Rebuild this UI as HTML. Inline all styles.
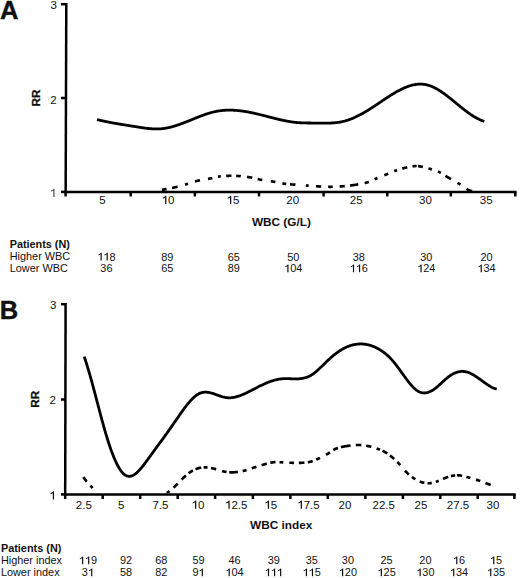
<!DOCTYPE html>
<html><head><meta charset="utf-8"><title>RR vs WBC</title>
<style>
html,body{margin:0;padding:0;background:#fff;}
body{width:520px;height:578px;overflow:hidden;}
svg{display:block;}
text{font-family:"Liberation Sans",sans-serif;}
</style></head><body>
<svg width="520" height="578" viewBox="0 0 520 578">
<g stroke="#000" stroke-width="2.50" fill="none" stroke-linecap="butt">
<line x1="66.30" y1="3.10" x2="65.65" y2="193.15"/>
<line x1="64.40" y1="191.90" x2="516.55" y2="191.90"/>
<line x1="61" y1="4.20" x2="65.65" y2="4.20"/>
<line x1="61" y1="98.00" x2="65.65" y2="98.00"/>
<line x1="61" y1="191.90" x2="65.65" y2="191.90"/>
<line x1="65.60" y1="191.90" x2="65.60" y2="196.50"/>
<line x1="130.70" y1="191.90" x2="130.70" y2="196.50"/>
<line x1="194.90" y1="191.90" x2="194.90" y2="196.50"/>
<line x1="259.00" y1="191.90" x2="259.00" y2="196.50"/>
<line x1="323.60" y1="191.90" x2="323.60" y2="196.50"/>
<line x1="387.30" y1="191.90" x2="387.30" y2="196.50"/>
<line x1="450.80" y1="191.90" x2="450.80" y2="196.50"/>
<line x1="515.30" y1="191.90" x2="515.30" y2="196.50"/>
<line x1="65.60" y1="303.00" x2="65.20" y2="495.65"/>
<line x1="63.95" y1="494.40" x2="515.75" y2="494.40"/>
<line x1="61" y1="304.20" x2="65.20" y2="304.20"/>
<line x1="61" y1="399.50" x2="65.20" y2="399.50"/>
<line x1="61" y1="494.40" x2="65.20" y2="494.40"/>
<line x1="65.20" y1="494.40" x2="65.20" y2="499.00"/>
<line x1="102.70" y1="494.40" x2="102.70" y2="499.00"/>
<line x1="140.20" y1="494.40" x2="140.20" y2="499.00"/>
<line x1="177.70" y1="494.40" x2="177.70" y2="499.00"/>
<line x1="215.10" y1="494.40" x2="215.10" y2="499.00"/>
<line x1="252.90" y1="494.40" x2="252.90" y2="499.00"/>
<line x1="290.40" y1="494.40" x2="290.40" y2="499.00"/>
<line x1="327.80" y1="494.40" x2="327.80" y2="499.00"/>
<line x1="365.40" y1="494.40" x2="365.40" y2="499.00"/>
<line x1="402.90" y1="494.40" x2="402.90" y2="499.00"/>
<line x1="440.30" y1="494.40" x2="440.30" y2="499.00"/>
<line x1="477.70" y1="494.40" x2="477.70" y2="499.00"/>
<line x1="514.40" y1="494.40" x2="514.40" y2="499.00"/>
</g>
<defs><clipPath id="ca"><rect x="67" y="0" width="460" height="190.9"/></clipPath><clipPath id="cb"><rect x="67" y="300" width="460" height="193.2"/></clipPath></defs>
<g fill="none" stroke="#000" stroke-linejoin="round">
<path stroke-width="2.80" stroke-linecap="butt" d="M97.00 119.56 L97.50 119.68 L98.00 119.80 L98.50 119.92 L99.00 120.04 L99.50 120.16 L100.00 120.28 L100.50 120.39 L101.00 120.51 L101.50 120.62 L102.00 120.73 L102.50 120.84 L103.00 120.95 L103.50 121.06 L104.00 121.17 L104.50 121.27 L105.00 121.38 L105.50 121.48 L106.00 121.59 L106.50 121.69 L107.00 121.79 L107.50 121.89 L108.00 121.99 L108.50 122.09 L109.00 122.19 L109.50 122.29 L110.00 122.38 L110.50 122.48 L111.00 122.57 L111.50 122.67 L112.00 122.76 L112.50 122.85 L113.00 122.95 L113.50 123.04 L114.00 123.13 L114.50 123.22 L115.00 123.31 L115.50 123.40 L116.00 123.48 L116.50 123.57 L117.00 123.66 L117.50 123.74 L118.00 123.83 L118.50 123.92 L119.00 124.00 L119.50 124.08 L120.00 124.17 L120.50 124.25 L121.00 124.33 L121.50 124.42 L122.00 124.50 L122.50 124.58 L123.00 124.66 L123.50 124.74 L124.00 124.83 L124.50 124.91 L125.00 124.99 L125.50 125.07 L126.00 125.15 L126.50 125.23 L127.00 125.31 L127.50 125.39 L128.00 125.47 L128.50 125.54 L129.00 125.62 L129.50 125.70 L130.00 125.78 L130.50 125.86 L131.00 125.94 L131.50 126.02 L132.00 126.10 L132.50 126.18 L133.00 126.25 L133.50 126.33 L134.00 126.41 L134.50 126.49 L135.00 126.57 L135.50 126.65 L136.00 126.73 L136.50 126.81 L137.00 126.89 L137.50 126.97 L138.00 127.05 L138.50 127.13 L139.00 127.21 L139.50 127.28 L140.00 127.36 L140.50 127.44 L141.00 127.52 L141.50 127.59 L142.00 127.67 L142.50 127.74 L143.00 127.81 L143.50 127.88 L144.00 127.95 L144.50 128.02 L145.00 128.09 L145.50 128.15 L146.00 128.22 L146.50 128.28 L147.00 128.34 L147.50 128.39 L148.00 128.45 L148.50 128.50 L149.00 128.55 L149.50 128.60 L150.00 128.65 L150.50 128.69 L151.00 128.73 L151.50 128.77 L152.00 128.80 L152.50 128.83 L153.00 128.86 L153.50 128.88 L154.00 128.90 L154.50 128.92 L155.00 128.94 L155.50 128.95 L156.00 128.95 L156.50 128.96 L157.00 128.95 L157.50 128.95 L158.00 128.94 L158.50 128.92 L159.00 128.90 L159.50 128.88 L160.00 128.85 L160.50 128.82 L161.00 128.78 L161.50 128.74 L162.00 128.69 L162.50 128.64 L163.00 128.58 L163.50 128.52 L164.00 128.45 L164.50 128.38 L165.00 128.30 L165.50 128.22 L166.00 128.14 L166.50 128.04 L167.00 127.95 L167.50 127.85 L168.00 127.75 L168.50 127.64 L169.00 127.53 L169.50 127.41 L170.00 127.29 L170.50 127.17 L171.00 127.04 L171.50 126.91 L172.00 126.78 L172.50 126.64 L173.00 126.50 L173.50 126.36 L174.00 126.21 L174.50 126.06 L175.00 125.91 L175.50 125.75 L176.00 125.59 L176.50 125.43 L177.00 125.26 L177.50 125.10 L178.00 124.93 L178.50 124.76 L179.00 124.58 L179.50 124.41 L180.00 124.23 L180.50 124.05 L181.00 123.87 L181.50 123.68 L182.00 123.50 L182.50 123.31 L183.00 123.12 L183.50 122.93 L184.00 122.74 L184.50 122.54 L185.00 122.35 L185.50 122.15 L186.00 121.95 L186.50 121.76 L187.00 121.56 L187.50 121.36 L188.00 121.16 L188.50 120.96 L189.00 120.76 L189.50 120.55 L190.00 120.35 L190.50 120.15 L191.00 119.95 L191.50 119.74 L192.00 119.54 L192.50 119.34 L193.00 119.13 L193.50 118.93 L194.00 118.73 L194.50 118.53 L195.00 118.32 L195.50 118.12 L196.00 117.92 L196.50 117.72 L197.00 117.52 L197.50 117.33 L198.00 117.13 L198.50 116.93 L199.00 116.74 L199.50 116.55 L200.00 116.35 L200.50 116.16 L201.00 115.97 L201.50 115.79 L202.00 115.60 L202.50 115.42 L203.00 115.24 L203.50 115.06 L204.00 114.88 L204.50 114.70 L205.00 114.53 L205.50 114.36 L206.00 114.19 L206.50 114.02 L207.00 113.86 L207.50 113.70 L208.00 113.54 L208.50 113.38 L209.00 113.23 L209.50 113.08 L210.00 112.93 L210.50 112.79 L211.00 112.65 L211.50 112.51 L212.00 112.38 L212.50 112.25 L213.00 112.12 L213.50 112.00 L214.00 111.88 L214.50 111.76 L215.00 111.65 L215.50 111.54 L216.00 111.44 L216.50 111.34 L217.00 111.25 L217.50 111.16 L218.00 111.07 L218.50 110.99 L219.00 110.91 L219.50 110.84 L220.00 110.77 L220.50 110.70 L221.00 110.64 L221.50 110.58 L222.00 110.52 L222.50 110.47 L223.00 110.43 L223.50 110.38 L224.00 110.34 L224.50 110.31 L225.00 110.27 L225.50 110.24 L226.00 110.22 L226.50 110.20 L227.00 110.18 L227.50 110.16 L228.00 110.15 L228.50 110.14 L229.00 110.14 L229.50 110.14 L230.00 110.14 L230.50 110.14 L231.00 110.15 L231.50 110.16 L232.00 110.17 L232.50 110.19 L233.00 110.21 L233.50 110.23 L234.00 110.26 L234.50 110.29 L235.00 110.32 L235.50 110.35 L236.00 110.39 L236.50 110.43 L237.00 110.47 L237.50 110.52 L238.00 110.56 L238.50 110.61 L239.00 110.67 L239.50 110.72 L240.00 110.78 L240.50 110.84 L241.00 110.90 L241.50 110.96 L242.00 111.03 L242.50 111.10 L243.00 111.17 L243.50 111.24 L244.00 111.32 L244.50 111.40 L245.00 111.48 L245.50 111.56 L246.00 111.64 L246.50 111.73 L247.00 111.81 L247.50 111.90 L248.00 111.99 L248.50 112.09 L249.00 112.18 L249.50 112.28 L250.00 112.38 L250.50 112.47 L251.00 112.58 L251.50 112.68 L252.00 112.78 L252.50 112.89 L253.00 112.99 L253.50 113.10 L254.00 113.21 L254.50 113.32 L255.00 113.44 L255.50 113.55 L256.00 113.66 L256.50 113.78 L257.00 113.90 L257.50 114.01 L258.00 114.13 L258.50 114.25 L259.00 114.37 L259.50 114.50 L260.00 114.62 L260.50 114.74 L261.00 114.87 L261.50 114.99 L262.00 115.12 L262.50 115.24 L263.00 115.37 L263.50 115.50 L264.00 115.63 L264.50 115.75 L265.00 115.88 L265.50 116.01 L266.00 116.14 L266.50 116.27 L267.00 116.40 L267.50 116.53 L268.00 116.66 L268.50 116.79 L269.00 116.92 L269.50 117.05 L270.00 117.18 L270.50 117.31 L271.00 117.44 L271.50 117.57 L272.00 117.70 L272.50 117.82 L273.00 117.95 L273.50 118.08 L274.00 118.21 L274.50 118.33 L275.00 118.46 L275.50 118.58 L276.00 118.71 L276.50 118.83 L277.00 118.95 L277.50 119.07 L278.00 119.19 L278.50 119.31 L279.00 119.43 L279.50 119.55 L280.00 119.66 L280.50 119.78 L281.00 119.89 L281.50 120.00 L282.00 120.11 L282.50 120.22 L283.00 120.33 L283.50 120.44 L284.00 120.54 L284.50 120.64 L285.00 120.74 L285.50 120.84 L286.00 120.94 L286.50 121.04 L287.00 121.13 L287.50 121.22 L288.00 121.31 L288.50 121.40 L289.00 121.49 L289.50 121.57 L290.00 121.65 L290.50 121.73 L291.00 121.81 L291.50 121.88 L292.00 121.95 L292.50 122.02 L293.00 122.09 L293.50 122.15 L294.00 122.22 L294.50 122.27 L295.00 122.33 L295.50 122.38 L296.00 122.44 L296.50 122.48 L297.00 122.53 L297.50 122.57 L298.00 122.61 L298.50 122.65 L299.00 122.68 L299.50 122.71 L300.00 122.74 L300.50 122.77 L301.00 122.80 L301.50 122.82 L302.00 122.84 L302.50 122.86 L303.00 122.88 L303.50 122.90 L304.00 122.91 L304.50 122.93 L305.00 122.94 L305.50 122.95 L306.00 122.96 L306.50 122.97 L307.00 122.98 L307.50 122.98 L308.00 122.99 L308.50 123.00 L309.00 123.00 L309.50 123.01 L310.00 123.01 L310.50 123.02 L311.00 123.02 L311.50 123.03 L312.00 123.03 L312.50 123.04 L313.00 123.04 L313.50 123.05 L314.00 123.05 L314.50 123.06 L315.00 123.06 L315.50 123.07 L316.00 123.08 L316.50 123.09 L317.00 123.10 L317.50 123.10 L318.00 123.11 L318.50 123.12 L319.00 123.13 L319.50 123.14 L320.00 123.15 L320.50 123.15 L321.00 123.16 L321.50 123.17 L322.00 123.17 L322.50 123.18 L323.00 123.18 L323.50 123.19 L324.00 123.19 L324.50 123.19 L325.00 123.19 L325.50 123.19 L326.00 123.18 L326.50 123.18 L327.00 123.17 L327.50 123.16 L328.00 123.15 L328.50 123.14 L329.00 123.13 L329.50 123.11 L330.00 123.09 L330.50 123.07 L331.00 123.05 L331.50 123.02 L332.00 122.99 L332.50 122.96 L333.00 122.93 L333.50 122.89 L334.00 122.85 L334.50 122.81 L335.00 122.76 L335.50 122.71 L336.00 122.66 L336.50 122.60 L337.00 122.54 L337.50 122.48 L338.00 122.41 L338.50 122.34 L339.00 122.26 L339.50 122.18 L340.00 122.09 L340.50 122.01 L341.00 121.91 L341.50 121.81 L342.00 121.71 L342.50 121.60 L343.00 121.49 L343.50 121.38 L344.00 121.25 L344.50 121.13 L345.00 120.99 L345.50 120.86 L346.00 120.71 L346.50 120.57 L347.00 120.41 L347.50 120.25 L348.00 120.09 L348.50 119.92 L349.00 119.75 L349.50 119.57 L350.00 119.39 L350.50 119.20 L351.00 119.01 L351.50 118.81 L352.00 118.61 L352.50 118.40 L353.00 118.19 L353.50 117.98 L354.00 117.76 L354.50 117.53 L355.00 117.31 L355.50 117.08 L356.00 116.84 L356.50 116.60 L357.00 116.36 L357.50 116.11 L358.00 115.86 L358.50 115.61 L359.00 115.35 L359.50 115.09 L360.00 114.83 L360.50 114.56 L361.00 114.29 L361.50 114.02 L362.00 113.74 L362.50 113.46 L363.00 113.18 L363.50 112.90 L364.00 112.61 L364.50 112.32 L365.00 112.02 L365.50 111.73 L366.00 111.43 L366.50 111.13 L367.00 110.83 L367.50 110.52 L368.00 110.21 L368.50 109.90 L369.00 109.59 L369.50 109.28 L370.00 108.96 L370.50 108.65 L371.00 108.33 L371.50 108.01 L372.00 107.69 L372.50 107.36 L373.00 107.04 L373.50 106.71 L374.00 106.38 L374.50 106.05 L375.00 105.72 L375.50 105.39 L376.00 105.06 L376.50 104.73 L377.00 104.39 L377.50 104.06 L378.00 103.72 L378.50 103.39 L379.00 103.05 L379.50 102.71 L380.00 102.38 L380.50 102.04 L381.00 101.70 L381.50 101.37 L382.00 101.03 L382.50 100.69 L383.00 100.36 L383.50 100.02 L384.00 99.69 L384.50 99.35 L385.00 99.02 L385.50 98.69 L386.00 98.35 L386.50 98.02 L387.00 97.70 L387.50 97.37 L388.00 97.04 L388.50 96.72 L389.00 96.40 L389.50 96.07 L390.00 95.76 L390.50 95.44 L391.00 95.12 L391.50 94.81 L392.00 94.50 L392.50 94.19 L393.00 93.89 L393.50 93.58 L394.00 93.28 L394.50 92.99 L395.00 92.69 L395.50 92.40 L396.00 92.11 L396.50 91.83 L397.00 91.55 L397.50 91.27 L398.00 91.00 L398.50 90.73 L399.00 90.46 L399.50 90.20 L400.00 89.94 L400.50 89.68 L401.00 89.43 L401.50 89.19 L402.00 88.95 L402.50 88.71 L403.00 88.48 L403.50 88.25 L404.00 88.03 L404.50 87.81 L405.00 87.60 L405.50 87.39 L406.00 87.19 L406.50 86.99 L407.00 86.80 L407.50 86.62 L408.00 86.44 L408.50 86.26 L409.00 86.09 L409.50 85.93 L410.00 85.78 L410.50 85.63 L411.00 85.48 L411.50 85.35 L412.00 85.22 L412.50 85.09 L413.00 84.98 L413.50 84.87 L414.00 84.76 L414.50 84.67 L415.00 84.58 L415.50 84.50 L416.00 84.42 L416.50 84.36 L417.00 84.30 L417.50 84.25 L418.00 84.21 L418.50 84.17 L419.00 84.14 L419.50 84.13 L420.00 84.12 L420.50 84.11 L421.00 84.12 L421.50 84.13 L422.00 84.16 L422.50 84.19 L423.00 84.23 L423.50 84.28 L424.00 84.34 L424.50 84.41 L425.00 84.49 L425.50 84.58 L426.00 84.67 L426.50 84.78 L427.00 84.90 L427.50 85.02 L428.00 85.16 L428.50 85.30 L429.00 85.46 L429.50 85.62 L430.00 85.79 L430.50 85.98 L431.00 86.17 L431.50 86.37 L432.00 86.57 L432.50 86.79 L433.00 87.01 L433.50 87.24 L434.00 87.48 L434.50 87.73 L435.00 87.98 L435.50 88.25 L436.00 88.51 L436.50 88.79 L437.00 89.07 L437.50 89.36 L438.00 89.65 L438.50 89.95 L439.00 90.26 L439.50 90.57 L440.00 90.89 L440.50 91.21 L441.00 91.54 L441.50 91.88 L442.00 92.22 L442.50 92.56 L443.00 92.91 L443.50 93.26 L444.00 93.62 L444.50 93.98 L445.00 94.35 L445.50 94.71 L446.00 95.09 L446.50 95.46 L447.00 95.84 L447.50 96.23 L448.00 96.61 L448.50 97.00 L449.00 97.39 L449.50 97.79 L450.00 98.18 L450.50 98.58 L451.00 98.98 L451.50 99.38 L452.00 99.78 L452.50 100.19 L453.00 100.60 L453.50 101.00 L454.00 101.41 L454.50 101.82 L455.00 102.23 L455.50 102.64 L456.00 103.05 L456.50 103.46 L457.00 103.87 L457.50 104.28 L458.00 104.69 L458.50 105.10 L459.00 105.51 L459.50 105.92 L460.00 106.32 L460.50 106.73 L461.00 107.13 L461.50 107.53 L462.00 107.94 L462.50 108.33 L463.00 108.73 L463.50 109.12 L464.00 109.52 L464.50 109.91 L465.00 110.29 L465.50 110.68 L466.00 111.06 L466.50 111.43 L467.00 111.81 L467.50 112.18 L468.00 112.54 L468.50 112.91 L469.00 113.27 L469.50 113.62 L470.00 113.97 L470.50 114.31 L471.00 114.66 L471.50 114.99 L472.00 115.32 L472.50 115.65 L473.00 115.97 L473.50 116.28 L474.00 116.59 L474.50 116.89 L475.00 117.19 L475.50 117.48 L476.00 117.76 L476.50 118.04 L477.00 118.31 L477.50 118.57 L478.00 118.83 L478.50 119.08 L479.00 119.32 L479.50 119.55 L480.00 119.78 L480.50 119.99 L481.00 120.20 L481.50 120.41 L482.00 120.60 L482.50 120.78 L483.00 120.96 L483.50 121.12 L484.00 121.28 L484.30 121.37"/>
<path clip-path="url(#ca)" stroke-width="2.65" d="M161.82 189.91 L162.22 189.83 L162.62 189.74 L163.02 189.66 L163.42 189.58 L163.81 189.50 L164.22 189.42 L164.63 189.33 L165.05 189.25 L165.46 189.17 L165.88 189.10 L166.29 189.02 L166.58 188.96 M172.12 187.93 L172.53 187.84 L172.94 187.76 L173.35 187.67 L173.76 187.58 L174.17 187.49 L174.59 187.40 L175.00 187.30 L175.42 187.20 L175.81 187.11 L176.20 187.01 L176.59 186.91 L176.99 186.81 L177.38 186.71 L177.58 186.66 M185.01 184.60 L185.41 184.49 L185.81 184.37 L186.20 184.26 L186.60 184.14 L186.99 184.03 L187.38 183.91 L187.76 183.79 L187.98 183.72 M195.01 181.46 L195.41 181.35 L195.81 181.24 L196.21 181.13 L196.62 181.02 L197.03 180.92 L197.44 180.81 L197.86 180.72 L198.26 180.63 L198.66 180.54 L199.07 180.45 L199.48 180.37 L199.90 180.28 L199.99 180.26 M208.01 178.90 L208.41 178.83 L208.83 178.76 L209.24 178.68 L209.64 178.61 L210.06 178.53 L210.47 178.45 L210.87 178.36 L211.29 178.28 L211.69 178.19 L212.09 178.10 L212.28 178.05 M218.02 176.73 L218.42 176.66 L218.82 176.59 L219.24 176.52 L219.63 176.47 L220.03 176.41 L220.43 176.36 L220.78 176.32 M226.20 175.90 L226.61 175.88 L227.01 175.86 L227.42 175.85 L227.83 175.83 L228.23 175.82 L228.64 175.81 L229.04 175.80 L229.45 175.79 L229.85 175.78 L230.25 175.77 L230.67 175.77 L231.09 175.76 L231.49 175.76 M236.21 175.86 L236.62 175.88 L237.05 175.91 L237.45 175.93 L237.86 175.96 L238.27 175.98 L238.68 176.01 L239.10 176.05 L239.51 176.08 L239.91 176.11 L240.32 176.14 L240.74 176.18 L240.79 176.19 M247.01 176.89 L247.41 176.95 L247.83 177.01 L248.25 177.07 L248.66 177.13 L249.08 177.20 L249.48 177.26 L249.89 177.33 L250.28 177.40 L250.70 177.48 L251.11 177.56 L251.52 177.65 L251.92 177.73 L252.30 177.82 M257.72 179.13 L258.12 179.22 L258.53 179.31 L258.94 179.39 L259.34 179.47 L259.74 179.55 L260.15 179.63 L260.56 179.70 L260.96 179.77 L261.36 179.84 L261.77 179.91 L262.18 179.97 L262.28 179.99 M270.82 181.24 L271.24 181.30 L271.66 181.37 L272.08 181.43 L272.48 181.50 L272.89 181.56 L273.28 181.63 L273.71 181.70 L274.13 181.78 L274.55 181.86 L274.97 181.93 L275.39 182.01 M282.32 183.37 L282.74 183.45 L283.15 183.52 L283.55 183.58 L283.95 183.65 L284.37 183.71 L284.78 183.77 L285.18 183.83 L285.59 183.88 L286.00 183.93 L286.18 183.95 M290.01 184.29 L290.41 184.32 L290.81 184.35 L291.23 184.38 L291.65 184.42 L292.07 184.45 L292.47 184.48 L292.87 184.51 L293.29 184.55 L293.69 184.58 L294.11 184.61 L294.54 184.65 L294.95 184.68 L295.36 184.71 L295.40 184.72 M305.81 185.50 L306.23 185.53 L306.64 185.56 L307.07 185.59 L307.49 185.62 L307.90 185.65 L308.31 185.68 L308.68 185.71 M316.01 186.25 L316.43 186.28 L316.84 186.30 L317.26 186.33 L317.68 186.35 L318.11 186.37 L318.51 186.40 L318.92 186.42 L319.33 186.44 L319.73 186.46 L320.14 186.48 L320.55 186.50 L320.96 186.52 L321.20 186.53 M328.12 186.79 L328.54 186.79 L328.95 186.80 L329.37 186.80 L329.78 186.80 L330.19 186.80 L330.61 186.80 L331.02 186.80 L331.43 186.79 L331.84 186.79 L332.26 186.78 L332.67 186.77 L332.70 186.77 M339.62 186.48 L340.03 186.45 L340.45 186.42 L340.86 186.40 L341.28 186.37 L341.69 186.34 L342.11 186.31 L342.53 186.28 L342.94 186.24 L343.36 186.21 L343.78 186.18 L344.19 186.14 L344.61 186.11 L344.79 186.09 M350.02 185.57 L350.44 185.52 L350.86 185.47 L351.28 185.41 L351.70 185.36 L352.13 185.30 L352.55 185.24 L352.98 185.18 L353.37 185.12 L353.77 185.07 L354.17 185.00 L354.57 184.94 L354.97 184.88 L355.38 184.81 L355.79 184.75 L356.21 184.68 L356.62 184.62 L357.04 184.55 L357.46 184.48 L357.88 184.40 L358.27 184.34 M364.61 183.06 L365.02 182.95 L365.43 182.85 L365.84 182.74 L366.23 182.63 L366.62 182.52 L367.02 182.40 L367.42 182.28 L367.81 182.15 L368.18 182.02 L368.58 181.88 L368.80 181.79 M374.60 179.20 L374.97 179.04 L375.35 178.87 L375.73 178.71 L376.12 178.55 L376.49 178.40 L376.87 178.25 L377.25 178.10 L377.47 178.00 M384.31 175.30 L384.70 175.15 L385.08 174.99 L385.46 174.84 L385.83 174.69 L386.20 174.54 L386.59 174.38 L386.98 174.22 L387.37 174.06 L387.75 173.89 L388.13 173.73 L388.30 173.66 M394.22 171.12 L394.61 170.97 L395.00 170.82 L395.39 170.67 L395.78 170.53 L396.18 170.40 L396.57 170.26 L396.96 170.13 L396.98 170.12 M402.21 168.55 L402.60 168.45 L402.99 168.35 L403.39 168.24 L403.79 168.15 L404.19 168.05 L404.59 167.95 L404.99 167.85 L405.40 167.76 L405.80 167.67 L406.20 167.58 L406.61 167.49 L407.02 167.40 L407.30 167.34 M412.51 166.36 L412.90 166.30 L413.31 166.25 L413.71 166.19 L414.11 166.15 L414.52 166.11 L414.92 166.07 L415.33 166.04 L415.74 166.02 L416.15 166.00 L416.55 166.00 L416.70 166.00 M418.10 166.10 L418.51 166.15 L418.91 166.22 L419.31 166.29 L419.71 166.36 L420.11 166.43 L420.50 166.50 L420.90 166.57 L421.30 166.65 L421.71 166.73 L422.11 166.82 L422.50 166.90 L422.88 166.99 M428.50 168.41 L428.91 168.52 L429.30 168.64 L429.70 168.75 L430.08 168.86 L430.48 168.99 L430.89 169.11 L431.29 169.23 L431.69 169.35 L431.88 169.41 M438.00 171.53 L438.39 171.70 L438.78 171.87 L439.16 172.04 L439.54 172.22 L439.92 172.41 L440.30 172.60 L440.67 172.80 L440.88 172.91 M445.41 175.75 L445.76 175.98 L446.11 176.21 L446.47 176.44 L446.81 176.65 L447.15 176.87 L447.51 177.08 L447.86 177.30 L448.22 177.51 L448.57 177.72 L448.92 177.92 L449.28 178.13 L449.65 178.34 L450.02 178.55 L450.37 178.75 L450.72 178.95 L451.00 179.11 M457.51 182.80 L457.88 183.02 L458.23 183.23 L458.58 183.45 L458.93 183.66 L459.29 183.88 L459.65 184.11 L460.01 184.34 L460.37 184.57 L460.49 184.65 M466.50 188.78 L466.84 189.00 L467.18 189.21 L467.53 189.42 L467.89 189.62 L468.26 189.82 L468.62 190.01 L468.99 190.18 L469.37 190.35 L469.74 190.50 L470.12 190.64 L470.51 190.76 L470.89 190.88 L471.28 190.99 L471.67 191.10 L472.00 191.20"/>
<path stroke-width="2.80" stroke-linecap="butt" d="M84.20 356.63 L84.70 358.08 L85.20 359.57 L85.70 361.09 L86.20 362.64 L86.70 364.22 L87.20 365.83 L87.70 367.47 L88.20 369.13 L88.70 370.82 L89.20 372.54 L89.70 374.27 L90.20 376.03 L90.70 377.81 L91.20 379.60 L91.70 381.41 L92.20 383.24 L92.70 385.08 L93.20 386.93 L93.70 388.80 L94.20 390.67 L94.70 392.56 L95.20 394.45 L95.70 396.34 L96.20 398.24 L96.70 400.14 L97.20 402.05 L97.70 403.95 L98.20 405.85 L98.70 407.75 L99.20 409.65 L99.70 411.54 L100.20 413.42 L100.70 415.29 L101.20 417.16 L101.70 419.01 L102.20 420.85 L102.70 422.68 L103.20 424.49 L103.70 426.29 L104.20 428.07 L104.70 429.82 L105.20 431.56 L105.70 433.28 L106.20 434.97 L106.70 436.64 L107.20 438.28 L107.70 439.89 L108.20 441.47 L108.70 443.03 L109.20 444.55 L109.70 446.05 L110.20 447.51 L110.70 448.94 L111.20 450.35 L111.70 451.72 L112.20 453.05 L112.70 454.36 L113.20 455.63 L113.70 456.87 L114.20 458.07 L114.70 459.24 L115.20 460.38 L115.70 461.48 L116.20 462.54 L116.70 463.57 L117.20 464.56 L117.70 465.51 L118.20 466.43 L118.70 467.31 L119.20 468.15 L119.70 468.95 L120.20 469.71 L120.70 470.43 L121.20 471.11 L121.70 471.75 L122.20 472.35 L122.70 472.91 L123.20 473.43 L123.70 473.90 L124.20 474.34 L124.70 474.72 L125.20 475.07 L125.70 475.37 L126.20 475.63 L126.70 475.84 L127.20 476.02 L127.70 476.15 L128.20 476.24 L128.70 476.30 L129.20 476.32 L129.70 476.30 L130.20 476.25 L130.70 476.16 L131.20 476.04 L131.70 475.89 L132.20 475.70 L132.70 475.49 L133.20 475.24 L133.70 474.97 L134.20 474.66 L134.70 474.34 L135.20 473.98 L135.70 473.60 L136.20 473.20 L136.70 472.77 L137.20 472.32 L137.70 471.86 L138.20 471.37 L138.70 470.86 L139.20 470.33 L139.70 469.79 L140.20 469.23 L140.70 468.65 L141.20 468.07 L141.70 467.46 L142.20 466.85 L142.70 466.22 L143.20 465.59 L143.70 464.94 L144.20 464.29 L144.70 463.62 L145.20 462.96 L145.70 462.28 L146.20 461.60 L146.70 460.92 L147.20 460.24 L147.70 459.55 L148.20 458.86 L148.70 458.17 L149.20 457.48 L149.70 456.79 L150.20 456.10 L150.70 455.41 L151.20 454.72 L151.70 454.03 L152.20 453.34 L152.70 452.65 L153.20 451.96 L153.70 451.27 L154.20 450.59 L154.70 449.90 L155.20 449.22 L155.70 448.53 L156.20 447.85 L156.70 447.17 L157.20 446.49 L157.70 445.82 L158.20 445.14 L158.70 444.47 L159.20 443.79 L159.70 443.12 L160.20 442.44 L160.70 441.77 L161.20 441.09 L161.70 440.41 L162.20 439.73 L162.70 439.05 L163.20 438.37 L163.70 437.68 L164.20 436.99 L164.70 436.30 L165.20 435.61 L165.70 434.91 L166.20 434.21 L166.70 433.51 L167.20 432.81 L167.70 432.10 L168.20 431.39 L168.70 430.68 L169.20 429.97 L169.70 429.26 L170.20 428.54 L170.70 427.82 L171.20 427.11 L171.70 426.39 L172.20 425.67 L172.70 424.94 L173.20 424.22 L173.70 423.50 L174.20 422.78 L174.70 422.05 L175.20 421.33 L175.70 420.60 L176.20 419.88 L176.70 419.15 L177.20 418.43 L177.70 417.71 L178.20 416.98 L178.70 416.26 L179.20 415.54 L179.70 414.82 L180.20 414.10 L180.70 413.39 L181.20 412.68 L181.70 411.98 L182.20 411.28 L182.70 410.58 L183.20 409.89 L183.70 409.21 L184.20 408.53 L184.70 407.86 L185.20 407.19 L185.70 406.54 L186.20 405.89 L186.70 405.25 L187.20 404.62 L187.70 404.00 L188.20 403.39 L188.70 402.80 L189.20 402.21 L189.70 401.63 L190.20 401.07 L190.70 400.52 L191.20 399.99 L191.70 399.46 L192.20 398.95 L192.70 398.46 L193.20 397.98 L193.70 397.52 L194.20 397.07 L194.70 396.64 L195.20 396.23 L195.70 395.83 L196.20 395.46 L196.70 395.10 L197.20 394.76 L197.70 394.44 L198.20 394.14 L198.70 393.86 L199.20 393.60 L199.70 393.36 L200.20 393.15 L200.70 392.95 L201.20 392.78 L201.70 392.64 L202.20 392.51 L202.70 392.40 L203.20 392.31 L203.70 392.24 L204.20 392.19 L204.70 392.16 L205.20 392.14 L205.70 392.14 L206.20 392.16 L206.70 392.19 L207.20 392.23 L207.70 392.29 L208.20 392.36 L208.70 392.44 L209.20 392.54 L209.70 392.64 L210.20 392.75 L210.70 392.88 L211.20 393.01 L211.70 393.15 L212.20 393.30 L212.70 393.45 L213.20 393.61 L213.70 393.78 L214.20 393.95 L214.70 394.12 L215.20 394.30 L215.70 394.48 L216.20 394.66 L216.70 394.84 L217.20 395.02 L217.70 395.20 L218.20 395.39 L218.70 395.57 L219.20 395.74 L219.70 395.92 L220.20 396.09 L220.70 396.26 L221.20 396.42 L221.70 396.57 L222.20 396.72 L222.70 396.87 L223.20 397.00 L223.70 397.13 L224.20 397.24 L224.70 397.35 L225.20 397.45 L225.70 397.53 L226.20 397.61 L226.70 397.67 L227.20 397.72 L227.70 397.76 L228.20 397.79 L228.70 397.80 L229.20 397.81 L229.70 397.80 L230.20 397.78 L230.70 397.76 L231.20 397.72 L231.70 397.67 L232.20 397.61 L232.70 397.55 L233.20 397.47 L233.70 397.39 L234.20 397.29 L234.70 397.19 L235.20 397.08 L235.70 396.96 L236.20 396.84 L236.70 396.70 L237.20 396.56 L237.70 396.41 L238.20 396.26 L238.70 396.10 L239.20 395.93 L239.70 395.75 L240.20 395.57 L240.70 395.38 L241.20 395.19 L241.70 394.99 L242.20 394.79 L242.70 394.58 L243.20 394.37 L243.70 394.15 L244.20 393.93 L244.70 393.70 L245.20 393.47 L245.70 393.24 L246.20 393.00 L246.70 392.76 L247.20 392.52 L247.70 392.27 L248.20 392.02 L248.70 391.77 L249.20 391.52 L249.70 391.26 L250.20 391.01 L250.70 390.75 L251.20 390.49 L251.70 390.23 L252.20 389.97 L252.70 389.71 L253.20 389.45 L253.70 389.19 L254.20 388.93 L254.70 388.67 L255.20 388.41 L255.70 388.15 L256.20 387.89 L256.70 387.63 L257.20 387.38 L257.70 387.12 L258.20 386.87 L258.70 386.62 L259.20 386.37 L259.70 386.12 L260.20 385.87 L260.70 385.63 L261.20 385.39 L261.70 385.15 L262.20 384.91 L262.70 384.68 L263.20 384.45 L263.70 384.22 L264.20 383.99 L264.70 383.77 L265.20 383.55 L265.70 383.33 L266.20 383.12 L266.70 382.91 L267.20 382.70 L267.70 382.50 L268.20 382.30 L268.70 382.11 L269.20 381.92 L269.70 381.73 L270.20 381.55 L270.70 381.37 L271.20 381.20 L271.70 381.03 L272.20 380.87 L272.70 380.71 L273.20 380.55 L273.70 380.40 L274.20 380.26 L274.70 380.12 L275.20 379.99 L275.70 379.86 L276.20 379.74 L276.70 379.63 L277.20 379.52 L277.70 379.42 L278.20 379.32 L278.70 379.23 L279.20 379.15 L279.70 379.07 L280.20 379.00 L280.70 378.93 L281.20 378.88 L281.70 378.83 L282.20 378.78 L282.70 378.75 L283.20 378.72 L283.70 378.69 L284.20 378.67 L284.70 378.66 L285.20 378.65 L285.70 378.64 L286.20 378.64 L286.70 378.65 L287.20 378.65 L287.70 378.66 L288.20 378.67 L288.70 378.68 L289.20 378.70 L289.70 378.71 L290.20 378.73 L290.70 378.75 L291.20 378.76 L291.70 378.78 L292.20 378.80 L292.70 378.81 L293.20 378.83 L293.70 378.84 L294.20 378.85 L294.70 378.86 L295.20 378.86 L295.70 378.86 L296.20 378.86 L296.70 378.85 L297.20 378.84 L297.70 378.82 L298.20 378.80 L298.70 378.78 L299.20 378.74 L299.70 378.71 L300.20 378.66 L300.70 378.61 L301.20 378.55 L301.70 378.48 L302.20 378.40 L302.70 378.32 L303.20 378.22 L303.70 378.12 L304.20 378.00 L304.70 377.88 L305.20 377.75 L305.70 377.60 L306.20 377.45 L306.70 377.28 L307.20 377.10 L307.70 376.91 L308.20 376.70 L308.70 376.48 L309.20 376.25 L309.70 376.00 L310.20 375.74 L310.70 375.47 L311.20 375.18 L311.70 374.87 L312.20 374.55 L312.70 374.22 L313.20 373.87 L313.70 373.50 L314.20 373.13 L314.70 372.74 L315.20 372.34 L315.70 371.93 L316.20 371.51 L316.70 371.08 L317.20 370.64 L317.70 370.19 L318.20 369.74 L318.70 369.28 L319.20 368.81 L319.70 368.33 L320.20 367.85 L320.70 367.37 L321.20 366.89 L321.70 366.40 L322.20 365.90 L322.70 365.41 L323.20 364.92 L323.70 364.42 L324.20 363.93 L324.70 363.43 L325.20 362.94 L325.70 362.45 L326.20 361.97 L326.70 361.48 L327.20 361.00 L327.70 360.53 L328.20 360.06 L328.70 359.60 L329.20 359.14 L329.70 358.68 L330.20 358.23 L330.70 357.79 L331.20 357.35 L331.70 356.92 L332.20 356.49 L332.70 356.07 L333.20 355.65 L333.70 355.24 L334.20 354.84 L334.70 354.44 L335.20 354.05 L335.70 353.67 L336.20 353.29 L336.70 352.92 L337.20 352.55 L337.70 352.19 L338.20 351.84 L338.70 351.50 L339.20 351.16 L339.70 350.84 L340.20 350.51 L340.70 350.20 L341.20 349.89 L341.70 349.60 L342.20 349.31 L342.70 349.02 L343.20 348.75 L343.70 348.48 L344.20 348.22 L344.70 347.97 L345.20 347.72 L345.70 347.48 L346.20 347.25 L346.70 347.03 L347.20 346.82 L347.70 346.61 L348.20 346.41 L348.70 346.22 L349.20 346.04 L349.70 345.86 L350.20 345.69 L350.70 345.53 L351.20 345.38 L351.70 345.24 L352.20 345.10 L352.70 344.97 L353.20 344.85 L353.70 344.73 L354.20 344.63 L354.70 344.53 L355.20 344.44 L355.70 344.35 L356.20 344.28 L356.70 344.21 L357.20 344.15 L357.70 344.10 L358.20 344.06 L358.70 344.02 L359.20 343.99 L359.70 343.97 L360.20 343.96 L360.70 343.95 L361.20 343.96 L361.70 343.97 L362.20 343.99 L362.70 344.01 L363.20 344.05 L363.70 344.09 L364.20 344.14 L364.70 344.20 L365.20 344.26 L365.70 344.34 L366.20 344.42 L366.70 344.51 L367.20 344.60 L367.70 344.71 L368.20 344.82 L368.70 344.94 L369.20 345.07 L369.70 345.21 L370.20 345.36 L370.70 345.51 L371.20 345.67 L371.70 345.84 L372.20 346.02 L372.70 346.20 L373.20 346.39 L373.70 346.59 L374.20 346.80 L374.70 347.02 L375.20 347.24 L375.70 347.48 L376.20 347.72 L376.70 347.97 L377.20 348.22 L377.70 348.49 L378.20 348.76 L378.70 349.04 L379.20 349.33 L379.70 349.63 L380.20 349.93 L380.70 350.25 L381.20 350.57 L381.70 350.90 L382.20 351.24 L382.70 351.59 L383.20 351.94 L383.70 352.31 L384.20 352.68 L384.70 353.07 L385.20 353.47 L385.70 353.87 L386.20 354.29 L386.70 354.72 L387.20 355.16 L387.70 355.61 L388.20 356.07 L388.70 356.54 L389.20 357.03 L389.70 357.53 L390.20 358.04 L390.70 358.56 L391.20 359.10 L391.70 359.65 L392.20 360.21 L392.70 360.79 L393.20 361.37 L393.70 361.97 L394.20 362.58 L394.70 363.20 L395.20 363.83 L395.70 364.46 L396.20 365.11 L396.70 365.76 L397.20 366.42 L397.70 367.08 L398.20 367.75 L398.70 368.43 L399.20 369.11 L399.70 369.79 L400.20 370.48 L400.70 371.17 L401.20 371.87 L401.70 372.56 L402.20 373.26 L402.70 373.95 L403.20 374.65 L403.70 375.34 L404.20 376.03 L404.70 376.72 L405.20 377.41 L405.70 378.09 L406.20 378.77 L406.70 379.44 L407.20 380.10 L407.70 380.76 L408.20 381.41 L408.70 382.04 L409.20 382.67 L409.70 383.29 L410.20 383.89 L410.70 384.48 L411.20 385.06 L411.70 385.63 L412.20 386.18 L412.70 386.71 L413.20 387.23 L413.70 387.72 L414.20 388.20 L414.70 388.66 L415.20 389.10 L415.70 389.52 L416.20 389.92 L416.70 390.30 L417.20 390.65 L417.70 390.97 L418.20 391.27 L418.70 391.55 L419.20 391.80 L419.70 392.03 L420.20 392.23 L420.70 392.40 L421.20 392.55 L421.70 392.68 L422.20 392.79 L422.70 392.87 L423.20 392.93 L423.70 392.97 L424.20 392.98 L424.70 392.97 L425.20 392.95 L425.70 392.90 L426.20 392.83 L426.70 392.74 L427.20 392.63 L427.70 392.50 L428.20 392.35 L428.70 392.18 L429.20 392.00 L429.70 391.79 L430.20 391.57 L430.70 391.33 L431.20 391.07 L431.70 390.80 L432.20 390.51 L432.70 390.21 L433.20 389.88 L433.70 389.55 L434.20 389.20 L434.70 388.83 L435.20 388.45 L435.70 388.06 L436.20 387.66 L436.70 387.25 L437.20 386.83 L437.70 386.40 L438.20 385.96 L438.70 385.52 L439.20 385.07 L439.70 384.61 L440.20 384.15 L440.70 383.69 L441.20 383.23 L441.70 382.77 L442.20 382.30 L442.70 381.84 L443.20 381.38 L443.70 380.92 L444.20 380.46 L444.70 380.01 L445.20 379.57 L445.70 379.13 L446.20 378.70 L446.70 378.27 L447.20 377.86 L447.70 377.45 L448.20 377.06 L448.70 376.68 L449.20 376.31 L449.70 375.95 L450.20 375.61 L450.70 375.28 L451.20 374.96 L451.70 374.66 L452.20 374.37 L452.70 374.09 L453.20 373.82 L453.70 373.57 L454.20 373.34 L454.70 373.11 L455.20 372.90 L455.70 372.71 L456.20 372.52 L456.70 372.35 L457.20 372.20 L457.70 372.06 L458.20 371.93 L458.70 371.82 L459.20 371.72 L459.70 371.64 L460.20 371.57 L460.70 371.51 L461.20 371.47 L461.70 371.44 L462.20 371.43 L462.70 371.43 L463.20 371.45 L463.70 371.48 L464.20 371.52 L464.70 371.58 L465.20 371.66 L465.70 371.75 L466.20 371.86 L466.70 371.98 L467.20 372.11 L467.70 372.26 L468.20 372.43 L468.70 372.61 L469.20 372.80 L469.70 373.01 L470.20 373.23 L470.70 373.46 L471.20 373.71 L471.70 373.96 L472.20 374.23 L472.70 374.50 L473.20 374.79 L473.70 375.08 L474.20 375.38 L474.70 375.69 L475.20 376.01 L475.70 376.33 L476.20 376.66 L476.70 377.00 L477.20 377.34 L477.70 377.69 L478.20 378.04 L478.70 378.39 L479.20 378.75 L479.70 379.11 L480.20 379.47 L480.70 379.83 L481.20 380.20 L481.70 380.56 L482.20 380.93 L482.70 381.29 L483.20 381.66 L483.70 382.02 L484.20 382.38 L484.70 382.74 L485.20 383.09 L485.70 383.44 L486.20 383.79 L486.70 384.13 L487.20 384.47 L487.70 384.80 L488.20 385.12 L488.70 385.44 L489.20 385.75 L489.70 386.05 L490.20 386.34 L490.70 386.63 L491.20 386.90 L491.70 387.17 L492.20 387.42 L492.70 387.67 L493.20 387.90 L493.70 388.12 L494.20 388.32 L494.70 388.52 L495.20 388.70 L495.70 388.86 L496.20 389.01 L496.70 389.15"/>
<path clip-path="url(#cb)" stroke-width="2.65" d="M83.30 477.10 L83.54 477.42 L83.78 477.75 L84.02 478.08 L84.26 478.40 L84.50 478.73 L84.74 479.06 L84.98 479.38 L85.23 479.71 L85.48 480.04 L85.73 480.36 L85.99 480.68 L86.25 481.01 L86.52 481.32 L86.79 481.64 L86.80 481.65 M90.40 485.58 L90.68 485.88 L90.96 486.19 L91.24 486.50 L91.51 486.81 L91.78 487.12 L92.04 487.43 L92.31 487.74 L92.57 488.05 L92.59 488.08"/>
<path clip-path="url(#cb)" stroke-width="2.65" d="M166.60 493.04 L166.97 492.86 L167.32 492.66 L167.66 492.44 L167.99 492.21 L168.32 491.96 L168.65 491.71 L168.97 491.46 L169.28 491.21 L169.49 491.04 M173.51 487.61 L173.82 487.33 L174.13 487.05 L174.45 486.77 L174.75 486.48 L175.06 486.20 L175.36 485.92 L175.66 485.64 L175.96 485.36 L176.26 485.07 L176.56 484.77 L176.85 484.49 L177.14 484.20 L177.43 483.90 L177.68 483.65 M181.60 479.56 L181.89 479.26 L182.17 478.98 L182.47 478.67 L182.77 478.38 L183.07 478.09 L183.36 477.81 L183.67 477.52 L183.97 477.24 L184.27 476.97 L184.58 476.69 L184.88 476.41 L185.18 476.14 L185.49 475.86 L185.80 475.58 L185.99 475.41 M188.61 473.25 L188.95 473.00 L189.29 472.75 L189.62 472.52 L189.95 472.29 L190.28 472.07 L190.63 471.85 L190.98 471.63 L191.33 471.41 L191.68 471.20 L192.04 470.99 L192.41 470.79 L192.77 470.59 L192.89 470.53 M195.51 469.26 L195.89 469.10 L196.26 468.95 L196.65 468.80 L197.03 468.65 L197.42 468.52 L197.80 468.39 L198.19 468.26 L198.59 468.15 L198.97 468.04 L199.37 467.94 L199.77 467.85 L200.16 467.77 L200.57 467.69 L200.98 467.63 L201.19 467.59 M203.61 467.40 L204.03 467.39 L204.43 467.38 L204.83 467.39 L205.24 467.39 L205.66 467.40 L206.07 467.42 L206.49 467.44 L206.90 467.47 L207.31 467.50 L207.59 467.53 M211.10 468.07 L211.50 468.15 L211.90 468.23 L212.31 468.32 L212.71 468.40 L213.12 468.49 L213.51 468.58 L213.91 468.67 L214.32 468.77 L214.72 468.88 L215.12 468.99 L215.51 469.10 L215.91 469.21 L216.17 469.29 M222.02 471.07 L222.43 471.18 L222.83 471.28 L223.23 471.37 L223.64 471.47 L224.05 471.55 L224.45 471.63 L224.86 471.70 L225.27 471.77 L225.67 471.84 L226.09 471.91 L226.50 471.97 L226.59 471.98 M229.20 472.27 L229.62 472.30 L230.04 472.32 L230.45 472.33 L230.85 472.34 L231.26 472.35 L231.68 472.35 L232.10 472.35 L232.51 472.34 L232.92 472.32 L233.35 472.31 L233.76 472.29 L234.17 472.26 L234.59 472.23 L235.00 472.20 L235.40 472.16 L235.82 472.12 L236.23 472.07 L236.66 472.02 L237.08 471.97 L237.48 471.92 L237.88 471.86 M242.62 471.03 L243.03 470.95 L243.44 470.86 L243.84 470.77 L244.24 470.68 L244.65 470.59 L245.06 470.49 L245.46 470.39 L245.86 470.28 L246.25 470.17 L246.59 470.07 M251.81 468.27 L252.21 468.13 L252.61 467.99 L252.99 467.86 L253.37 467.74 L253.76 467.61 L254.15 467.48 L254.54 467.36 L254.94 467.23 L255.34 467.11 L255.75 466.98 L256.13 466.86 L256.39 466.77 M261.61 465.15 L262.01 465.03 L262.41 464.91 L262.80 464.80 L263.20 464.68 L263.58 464.57 L263.99 464.46 L264.39 464.35 L264.78 464.24 L265.17 464.13 L265.56 464.02 L265.97 463.90 L266.37 463.79 L266.77 463.67 L266.79 463.67 M270.31 462.75 L270.71 462.67 L271.11 462.59 L271.51 462.51 L271.92 462.44 L272.32 462.38 L272.73 462.32 L273.14 462.27 L273.54 462.23 L273.94 462.20 L274.36 462.17 L274.77 462.15 L275.18 462.14 L275.49 462.13 M279.51 462.23 L279.92 462.25 L280.32 462.26 L280.73 462.28 L281.14 462.29 L281.56 462.30 L281.97 462.32 L282.38 462.33 L282.79 462.35 L283.21 462.37 L283.28 462.37 M289.31 462.71 L289.73 462.73 L290.14 462.75 L290.55 462.77 L290.96 462.78 L291.37 462.79 L291.78 462.80 L292.18 462.81 L292.59 462.82 L293.00 462.83 L293.41 462.84 L293.81 462.85 L293.99 462.86 M298.81 462.89 L299.23 462.88 L299.64 462.87 L300.06 462.86 L300.47 462.85 L300.87 462.83 L301.27 462.82 L301.69 462.79 L302.11 462.77 L302.52 462.75 L302.93 462.73 L303.33 462.70 L303.73 462.68 L304.15 462.65 L304.39 462.63 M307.82 462.26 L308.22 462.20 L308.63 462.13 L309.02 462.06 L309.42 461.98 L309.81 461.89 L310.20 461.80 L310.59 461.70 L310.99 461.60 L311.38 461.49 L311.77 461.37 L312.16 461.25 L312.54 461.12 L312.69 461.07 M316.21 459.65 L316.58 459.49 L316.95 459.32 L317.33 459.15 L317.70 458.98 L318.08 458.81 L318.46 458.63 L318.84 458.46 L319.22 458.28 L319.58 458.10 L319.96 457.92 L319.98 457.91 M326.00 454.77 L326.37 454.57 L326.74 454.37 L327.10 454.17 L327.45 453.97 L327.81 453.76 L328.17 453.56 L328.53 453.35 L328.88 453.13 L329.22 452.91 L329.57 452.68 L329.91 452.45 L330.00 452.39 M333.31 450.02 L333.66 449.80 L334.01 449.59 L334.38 449.39 L334.74 449.20 L335.11 449.02 L335.49 448.85 L335.87 448.69 L336.24 448.54 L336.63 448.39 L337.02 448.25 L337.41 448.12 L337.81 447.99 L338.00 447.92 M340.90 447.13 L341.31 447.04 L341.73 446.95 L342.12 446.86 L342.52 446.78 L342.92 446.70 L343.33 446.62 L343.74 446.54 L344.15 446.47 L344.57 446.39 L344.99 446.32 L345.39 446.25 L345.79 446.19 L346.19 446.12 L346.61 446.05 L347.03 445.99 L347.44 445.93 L347.84 445.87 L348.25 445.81 L348.67 445.76 L349.09 445.70 L349.52 445.65 L349.95 445.60 L350.35 445.55 L350.58 445.52 M355.80 445.08 L356.22 445.06 L356.63 445.04 L357.03 445.02 L357.46 445.01 L357.88 445.00 L358.30 445.00 L358.70 445.00 L359.13 445.00 L359.55 445.01 L359.97 445.03 L360.38 445.04 L360.79 445.06 L361.19 445.09 L361.30 445.09 M366.22 445.70 L366.63 445.78 L367.05 445.85 L367.47 445.93 L367.86 446.01 L368.26 446.09 L368.65 446.17 L369.05 446.25 L369.45 446.34 L369.85 446.43 L370.25 446.53 L370.65 446.63 L371.05 446.74 L371.40 446.83 M376.62 448.50 L377.02 448.64 L377.41 448.78 L377.79 448.92 L378.18 449.06 L378.56 449.19 L378.94 449.33 L379.33 449.47 L379.71 449.61 L379.99 449.72 M382.50 450.74 L382.87 450.92 L383.24 451.10 L383.59 451.28 L383.96 451.47 L384.31 451.67 L384.68 451.87 L385.04 452.08 L385.38 452.29 L385.73 452.50 L386.08 452.72 L386.43 452.95 L386.77 453.17 L387.11 453.40 L387.29 453.52 M389.91 455.43 L390.23 455.68 L390.56 455.93 L390.88 456.19 L391.19 456.44 L391.51 456.70 L391.83 456.96 L392.14 457.21 L392.45 457.47 L392.75 457.73 L393.07 458.01 L393.39 458.28 L393.70 458.56 L394.02 458.83 L394.20 459.00 M397.30 461.96 L397.60 462.26 L397.89 462.55 L398.17 462.85 L398.47 463.15 L398.74 463.44 L399.03 463.74 L399.32 464.05 L399.59 464.35 L399.87 464.66 L400.15 464.98 L400.29 465.14 M405.01 470.66 L405.28 470.97 L405.56 471.28 L405.84 471.59 L406.12 471.89 L406.41 472.20 L406.70 472.50 L407.00 472.80 L407.29 473.09 L407.59 473.38 L407.89 473.66 L408.19 473.95 L408.49 474.22 L408.80 474.50 L408.90 474.59 M411.91 476.98 L412.24 477.21 L412.58 477.44 L412.93 477.67 L413.27 477.89 L413.62 478.11 L413.96 478.33 L414.31 478.54 L414.67 478.76 L415.01 478.97 L415.36 479.17 L415.38 479.18 M419.72 481.42 L420.11 481.59 L420.49 481.75 L420.87 481.90 L421.25 482.04 L421.64 482.18 L422.02 482.31 L422.42 482.43 L422.81 482.54 L423.20 482.64 L423.61 482.74 L424.01 482.83 L424.40 482.91 M427.51 483.24 L427.92 483.24 L428.34 483.24 L428.75 483.24 L429.16 483.22 L429.58 483.20 L430.00 483.17 L430.41 483.13 L430.83 483.08 L431.24 483.02 L431.65 482.95 L431.80 482.93 M435.82 481.86 L436.21 481.73 L436.60 481.60 L437.00 481.47 L437.38 481.34 L437.77 481.20 L438.16 481.05 L438.54 480.90 L438.69 480.84 M443.10 478.87 L443.49 478.70 L443.87 478.53 L444.25 478.37 L444.63 478.22 L445.02 478.06 L445.40 477.91 L445.78 477.77 L446.17 477.63 L446.56 477.49 L446.94 477.36 L447.33 477.23 L447.72 477.10 L448.12 476.97 L448.28 476.91 M450.91 476.15 L451.31 476.05 L451.72 475.96 L452.12 475.87 L452.52 475.79 L452.91 475.72 L453.32 475.64 L453.72 475.58 L454.12 475.52 L454.53 475.46 L454.93 475.41 L455.19 475.38 M456.91 475.27 L457.32 475.26 L457.73 475.27 L458.13 475.29 L458.54 475.31 L458.96 475.35 L459.37 475.39 L459.77 475.43 L460.17 475.49 L460.57 475.55 L460.99 475.62 L461.39 475.69 L461.80 475.77 L462.10 475.83 M466.41 476.87 L466.81 476.98 L467.21 477.09 L467.61 477.19 L468.00 477.30 L468.40 477.40 L468.80 477.51 L469.20 477.61 L469.60 477.72 L470.00 477.83 L470.38 477.94 M476.00 479.62 L476.40 479.74 L476.79 479.87 L477.19 480.00 L477.58 480.13 L477.98 480.26 L478.37 480.39 L478.75 480.52 L479.14 480.66 L479.54 480.80 L479.94 480.94 L480.29 481.06 M485.51 483.02 L485.90 483.17 L486.28 483.31 L486.67 483.46 L487.06 483.61 L487.45 483.75 L487.83 483.90 L488.22 484.05 L488.60 484.19 L488.98 484.33 L489.36 484.48 L489.74 484.62 L490.13 484.77 L490.51 484.92 L490.69 484.99"/>
</g>
<g fill="#111">
<text x="0.10" y="18.90" font-size="25.50" font-weight="bold" text-anchor="start" stroke="#111" stroke-width="0.4">A</text>
<text x="-0.30" y="318.80" font-size="25.50" font-weight="bold" text-anchor="start" stroke="#111" stroke-width="0.4">B</text>
<text x="53.60" y="9.40" font-size="11.50" text-anchor="middle">3</text>
<text x="53.50" y="103.60" font-size="11.50" text-anchor="middle">2</text>
<text x="49.90" y="197.00" font-size="11.50" fill="#555">&#160;</text>
<path transform="translate(49.90 197.00) scale(11.500)" d="M0.405 0L0.405 -0.716L0.33 -0.716C0.30 -0.655 0.21 -0.59 0.10 -0.56L0.10 -0.465C0.18 -0.49 0.245 -0.53 0.295 -0.575L0.295 0Z" fill="#555"/>
<text x="53.10" y="309.40" font-size="11.50" text-anchor="middle">3</text>
<text x="52.80" y="404.40" font-size="11.50" text-anchor="middle">2</text>
<text x="49.40" y="499.60" font-size="11.50">&#160;</text>
<path transform="translate(49.40 499.60) scale(11.500)" d="M0.405 0L0.405 -0.716L0.33 -0.716C0.30 -0.655 0.21 -0.59 0.10 -0.56L0.10 -0.465C0.18 -0.49 0.245 -0.53 0.295 -0.575L0.295 0Z"/>
<text transform="translate(40.2 98.1) rotate(-90)" font-size="11.6" font-weight="bold" text-anchor="middle" stroke="#111" stroke-width="0.3">RR</text>
<text transform="translate(39.3 399.3) rotate(-90)" font-size="11.6" font-weight="bold" text-anchor="middle" stroke="#111" stroke-width="0.3">RR</text>
<text x="102.50" y="204.00" font-size="11.50" text-anchor="middle">5</text>
<text x="161.70 168.10" y="204.00" font-size="11.50">&#160;0</text>
<path transform="translate(161.70 204.00) scale(11.500)" d="M0.405 0L0.405 -0.716L0.33 -0.716C0.30 -0.655 0.21 -0.59 0.10 -0.56L0.10 -0.465C0.18 -0.49 0.245 -0.53 0.295 -0.575L0.295 0Z"/>
<text x="226.60 233.00" y="204.00" font-size="11.50">&#160;5</text>
<path transform="translate(226.60 204.00) scale(11.500)" d="M0.405 0L0.405 -0.716L0.33 -0.716C0.30 -0.655 0.21 -0.59 0.10 -0.56L0.10 -0.465C0.18 -0.49 0.245 -0.53 0.295 -0.575L0.295 0Z"/>
<text x="292.70" y="204.00" font-size="11.50" text-anchor="middle">20</text>
<text x="356.20" y="204.00" font-size="11.50" text-anchor="middle">25</text>
<text x="425.50" y="204.00" font-size="11.50" text-anchor="middle">30</text>
<text x="486.20" y="204.00" font-size="11.50" text-anchor="middle">35</text>
<text x="281.40" y="226.30" font-size="11.80" font-weight="bold" text-anchor="middle">WBC (G/L)</text>
<text x="83.80" y="508.80" font-size="11.50" text-anchor="middle">2.5</text>
<text x="121.30" y="508.80" font-size="11.50" text-anchor="middle">5</text>
<text x="160.50" y="508.80" font-size="11.50" text-anchor="middle">7.5</text>
<text x="191.60 198.00" y="508.80" font-size="11.50">&#160;0</text>
<path transform="translate(191.60 508.80) scale(11.500)" d="M0.405 0L0.405 -0.716L0.33 -0.716C0.30 -0.655 0.21 -0.59 0.10 -0.56L0.10 -0.465C0.18 -0.49 0.245 -0.53 0.295 -0.575L0.295 0Z"/>
<text x="225.01 231.40 237.80 241.00" y="508.80" font-size="11.50">&#160;2.5</text>
<path transform="translate(225.01 508.80) scale(11.500)" d="M0.405 0L0.405 -0.716L0.33 -0.716C0.30 -0.655 0.21 -0.59 0.10 -0.56L0.10 -0.465C0.18 -0.49 0.245 -0.53 0.295 -0.575L0.295 0Z"/>
<text x="264.40 270.80" y="508.80" font-size="11.50">&#160;5</text>
<path transform="translate(264.40 508.80) scale(11.500)" d="M0.405 0L0.405 -0.716L0.33 -0.716C0.30 -0.655 0.21 -0.59 0.10 -0.56L0.10 -0.465C0.18 -0.49 0.245 -0.53 0.295 -0.575L0.295 0Z"/>
<text x="297.31 303.70 310.10 313.30" y="508.80" font-size="11.50">&#160;7.5</text>
<path transform="translate(297.31 508.80) scale(11.500)" d="M0.405 0L0.405 -0.716L0.33 -0.716C0.30 -0.655 0.21 -0.59 0.10 -0.56L0.10 -0.465C0.18 -0.49 0.245 -0.53 0.295 -0.575L0.295 0Z"/>
<text x="345.00" y="508.80" font-size="11.50" text-anchor="middle">20</text>
<text x="383.70" y="508.80" font-size="11.50" text-anchor="middle">22.5</text>
<text x="421.00" y="508.80" font-size="11.50" text-anchor="middle">25</text>
<text x="458.00" y="508.80" font-size="11.50" text-anchor="middle">27.5</text>
<text x="493.00" y="508.80" font-size="11.50" text-anchor="middle">30</text>
<text x="281.20" y="529.00" font-size="11.80" font-weight="bold" text-anchor="middle">WBC index</text>
<text x="9.70" y="247.70" font-size="10.50" font-weight="bold" text-anchor="start" textLength="60.2" lengthAdjust="spacingAndGlyphs">Patients (N)</text>
<text x="9.70" y="260.30" font-size="10.90" text-anchor="start">Higher WBC</text>
<text x="9.70" y="272.20" font-size="10.90" text-anchor="start">Lower WBC</text>
<text x="97.31 103.37 109.43" y="260.60" font-size="10.90">&#160;&#160;8</text>
<path transform="translate(97.31 260.60) scale(10.900)" d="M0.405 0L0.405 -0.716L0.33 -0.716C0.30 -0.655 0.21 -0.59 0.10 -0.56L0.10 -0.465C0.18 -0.49 0.245 -0.53 0.295 -0.575L0.295 0Z"/>
<path transform="translate(103.37 260.60) scale(10.900)" d="M0.405 0L0.405 -0.716L0.33 -0.716C0.30 -0.655 0.21 -0.59 0.10 -0.56L0.10 -0.465C0.18 -0.49 0.245 -0.53 0.295 -0.575L0.295 0Z"/>
<text x="106.40" y="272.30" font-size="10.90" text-anchor="middle">36</text>
<text x="167.20" y="260.60" font-size="10.90" text-anchor="middle">89</text>
<text x="167.20" y="272.30" font-size="10.90" text-anchor="middle">65</text>
<text x="233.80" y="260.60" font-size="10.90" text-anchor="middle">65</text>
<text x="233.80" y="272.30" font-size="10.90" text-anchor="middle">89</text>
<text x="293.20" y="260.60" font-size="10.90" text-anchor="middle">50</text>
<text x="284.11 290.17 296.23" y="272.30" font-size="10.90">&#160;04</text>
<path transform="translate(284.11 272.30) scale(10.900)" d="M0.405 0L0.405 -0.716L0.33 -0.716C0.30 -0.655 0.21 -0.59 0.10 -0.56L0.10 -0.465C0.18 -0.49 0.245 -0.53 0.295 -0.575L0.295 0Z"/>
<text x="358.80" y="260.60" font-size="10.90" text-anchor="middle">38</text>
<text x="349.71 355.77 361.83" y="272.30" font-size="10.90">&#160;&#160;6</text>
<path transform="translate(349.71 272.30) scale(10.900)" d="M0.405 0L0.405 -0.716L0.33 -0.716C0.30 -0.655 0.21 -0.59 0.10 -0.56L0.10 -0.465C0.18 -0.49 0.245 -0.53 0.295 -0.575L0.295 0Z"/>
<path transform="translate(355.77 272.30) scale(10.900)" d="M0.405 0L0.405 -0.716L0.33 -0.716C0.30 -0.655 0.21 -0.59 0.10 -0.56L0.10 -0.465C0.18 -0.49 0.245 -0.53 0.295 -0.575L0.295 0Z"/>
<text x="426.30" y="260.60" font-size="10.90" text-anchor="middle">30</text>
<text x="417.21 423.27 429.33" y="272.30" font-size="10.90">&#160;24</text>
<path transform="translate(417.21 272.30) scale(10.900)" d="M0.405 0L0.405 -0.716L0.33 -0.716C0.30 -0.655 0.21 -0.59 0.10 -0.56L0.10 -0.465C0.18 -0.49 0.245 -0.53 0.295 -0.575L0.295 0Z"/>
<text x="486.50" y="260.60" font-size="10.90" text-anchor="middle">20</text>
<text x="477.41 483.47 489.53" y="272.30" font-size="10.90">&#160;34</text>
<path transform="translate(477.41 272.30) scale(10.900)" d="M0.405 0L0.405 -0.716L0.33 -0.716C0.30 -0.655 0.21 -0.59 0.10 -0.56L0.10 -0.465C0.18 -0.49 0.245 -0.53 0.295 -0.575L0.295 0Z"/>
<text x="0.90" y="551.70" font-size="10.90" font-weight="bold" text-anchor="start">Patients (N)</text>
<text x="0.90" y="564.20" font-size="10.90" text-anchor="start">Higher index</text>
<text x="0.90" y="576.00" font-size="10.90" text-anchor="start">Lower index</text>
<text x="78.81 84.87 90.93" y="564.30" font-size="10.90">&#160;&#160;9</text>
<path transform="translate(78.81 564.30) scale(10.900)" d="M0.405 0L0.405 -0.716L0.33 -0.716C0.30 -0.655 0.21 -0.59 0.10 -0.56L0.10 -0.465C0.18 -0.49 0.245 -0.53 0.295 -0.575L0.295 0Z"/>
<path transform="translate(84.87 564.30) scale(10.900)" d="M0.405 0L0.405 -0.716L0.33 -0.716C0.30 -0.655 0.21 -0.59 0.10 -0.56L0.10 -0.465C0.18 -0.49 0.245 -0.53 0.295 -0.575L0.295 0Z"/>
<text x="81.84 87.90" y="576.30" font-size="10.90">3&#160;</text>
<path transform="translate(87.90 576.30) scale(10.900)" d="M0.405 0L0.405 -0.716L0.33 -0.716C0.30 -0.655 0.21 -0.59 0.10 -0.56L0.10 -0.465C0.18 -0.49 0.245 -0.53 0.295 -0.575L0.295 0Z"/>
<text x="126.00" y="564.30" font-size="10.90" text-anchor="middle">92</text>
<text x="126.00" y="576.30" font-size="10.90" text-anchor="middle">58</text>
<text x="161.30" y="564.30" font-size="10.90" text-anchor="middle">68</text>
<text x="161.30" y="576.30" font-size="10.90" text-anchor="middle">82</text>
<text x="198.50" y="564.30" font-size="10.90" text-anchor="middle">59</text>
<text x="192.44 198.50" y="576.30" font-size="10.90">9&#160;</text>
<path transform="translate(198.50 576.30) scale(10.900)" d="M0.405 0L0.405 -0.716L0.33 -0.716C0.30 -0.655 0.21 -0.59 0.10 -0.56L0.10 -0.465C0.18 -0.49 0.245 -0.53 0.295 -0.575L0.295 0Z"/>
<text x="234.50" y="564.30" font-size="10.90" text-anchor="middle">46</text>
<text x="225.41 231.47 237.53" y="576.30" font-size="10.90">&#160;04</text>
<path transform="translate(225.41 576.30) scale(10.900)" d="M0.405 0L0.405 -0.716L0.33 -0.716C0.30 -0.655 0.21 -0.59 0.10 -0.56L0.10 -0.465C0.18 -0.49 0.245 -0.53 0.295 -0.575L0.295 0Z"/>
<text x="273.80" y="564.30" font-size="10.90" text-anchor="middle">39</text>
<text x="264.71 270.77 276.83" y="576.30" font-size="10.90">&#160;&#160;&#160;</text>
<path transform="translate(264.71 576.30) scale(10.900)" d="M0.405 0L0.405 -0.716L0.33 -0.716C0.30 -0.655 0.21 -0.59 0.10 -0.56L0.10 -0.465C0.18 -0.49 0.245 -0.53 0.295 -0.575L0.295 0Z"/>
<path transform="translate(270.77 576.30) scale(10.900)" d="M0.405 0L0.405 -0.716L0.33 -0.716C0.30 -0.655 0.21 -0.59 0.10 -0.56L0.10 -0.465C0.18 -0.49 0.245 -0.53 0.295 -0.575L0.295 0Z"/>
<path transform="translate(276.83 576.30) scale(10.900)" d="M0.405 0L0.405 -0.716L0.33 -0.716C0.30 -0.655 0.21 -0.59 0.10 -0.56L0.10 -0.465C0.18 -0.49 0.245 -0.53 0.295 -0.575L0.295 0Z"/>
<text x="311.70" y="564.30" font-size="10.90" text-anchor="middle">35</text>
<text x="302.61 308.67 314.73" y="576.30" font-size="10.90">&#160;&#160;5</text>
<path transform="translate(302.61 576.30) scale(10.900)" d="M0.405 0L0.405 -0.716L0.33 -0.716C0.30 -0.655 0.21 -0.59 0.10 -0.56L0.10 -0.465C0.18 -0.49 0.245 -0.53 0.295 -0.575L0.295 0Z"/>
<path transform="translate(308.67 576.30) scale(10.900)" d="M0.405 0L0.405 -0.716L0.33 -0.716C0.30 -0.655 0.21 -0.59 0.10 -0.56L0.10 -0.465C0.18 -0.49 0.245 -0.53 0.295 -0.575L0.295 0Z"/>
<text x="347.90" y="564.30" font-size="10.90" text-anchor="middle">30</text>
<text x="338.81 344.87 350.93" y="576.30" font-size="10.90">&#160;20</text>
<path transform="translate(338.81 576.30) scale(10.900)" d="M0.405 0L0.405 -0.716L0.33 -0.716C0.30 -0.655 0.21 -0.59 0.10 -0.56L0.10 -0.465C0.18 -0.49 0.245 -0.53 0.295 -0.575L0.295 0Z"/>
<text x="386.60" y="564.30" font-size="10.90" text-anchor="middle">25</text>
<text x="377.51 383.57 389.63" y="576.30" font-size="10.90">&#160;25</text>
<path transform="translate(377.51 576.30) scale(10.900)" d="M0.405 0L0.405 -0.716L0.33 -0.716C0.30 -0.655 0.21 -0.59 0.10 -0.56L0.10 -0.465C0.18 -0.49 0.245 -0.53 0.295 -0.575L0.295 0Z"/>
<text x="425.40" y="564.30" font-size="10.90" text-anchor="middle">20</text>
<text x="416.31 422.37 428.43" y="576.30" font-size="10.90">&#160;30</text>
<path transform="translate(416.31 576.30) scale(10.900)" d="M0.405 0L0.405 -0.716L0.33 -0.716C0.30 -0.655 0.21 -0.59 0.10 -0.56L0.10 -0.465C0.18 -0.49 0.245 -0.53 0.295 -0.575L0.295 0Z"/>
<text x="452.94 459.00" y="564.30" font-size="10.90">&#160;6</text>
<path transform="translate(452.94 564.30) scale(10.900)" d="M0.405 0L0.405 -0.716L0.33 -0.716C0.30 -0.655 0.21 -0.59 0.10 -0.56L0.10 -0.465C0.18 -0.49 0.245 -0.53 0.295 -0.575L0.295 0Z"/>
<text x="449.91 455.97 462.03" y="576.30" font-size="10.90">&#160;34</text>
<path transform="translate(449.91 576.30) scale(10.900)" d="M0.405 0L0.405 -0.716L0.33 -0.716C0.30 -0.655 0.21 -0.59 0.10 -0.56L0.10 -0.465C0.18 -0.49 0.245 -0.53 0.295 -0.575L0.295 0Z"/>
<text x="489.94 496.00" y="564.30" font-size="10.90">&#160;5</text>
<path transform="translate(489.94 564.30) scale(10.900)" d="M0.405 0L0.405 -0.716L0.33 -0.716C0.30 -0.655 0.21 -0.59 0.10 -0.56L0.10 -0.465C0.18 -0.49 0.245 -0.53 0.295 -0.575L0.295 0Z"/>
<text x="486.91 492.97 499.03" y="576.30" font-size="10.90">&#160;35</text>
<path transform="translate(486.91 576.30) scale(10.900)" d="M0.405 0L0.405 -0.716L0.33 -0.716C0.30 -0.655 0.21 -0.59 0.10 -0.56L0.10 -0.465C0.18 -0.49 0.245 -0.53 0.295 -0.575L0.295 0Z"/>
</g>
</svg>
</body></html>
